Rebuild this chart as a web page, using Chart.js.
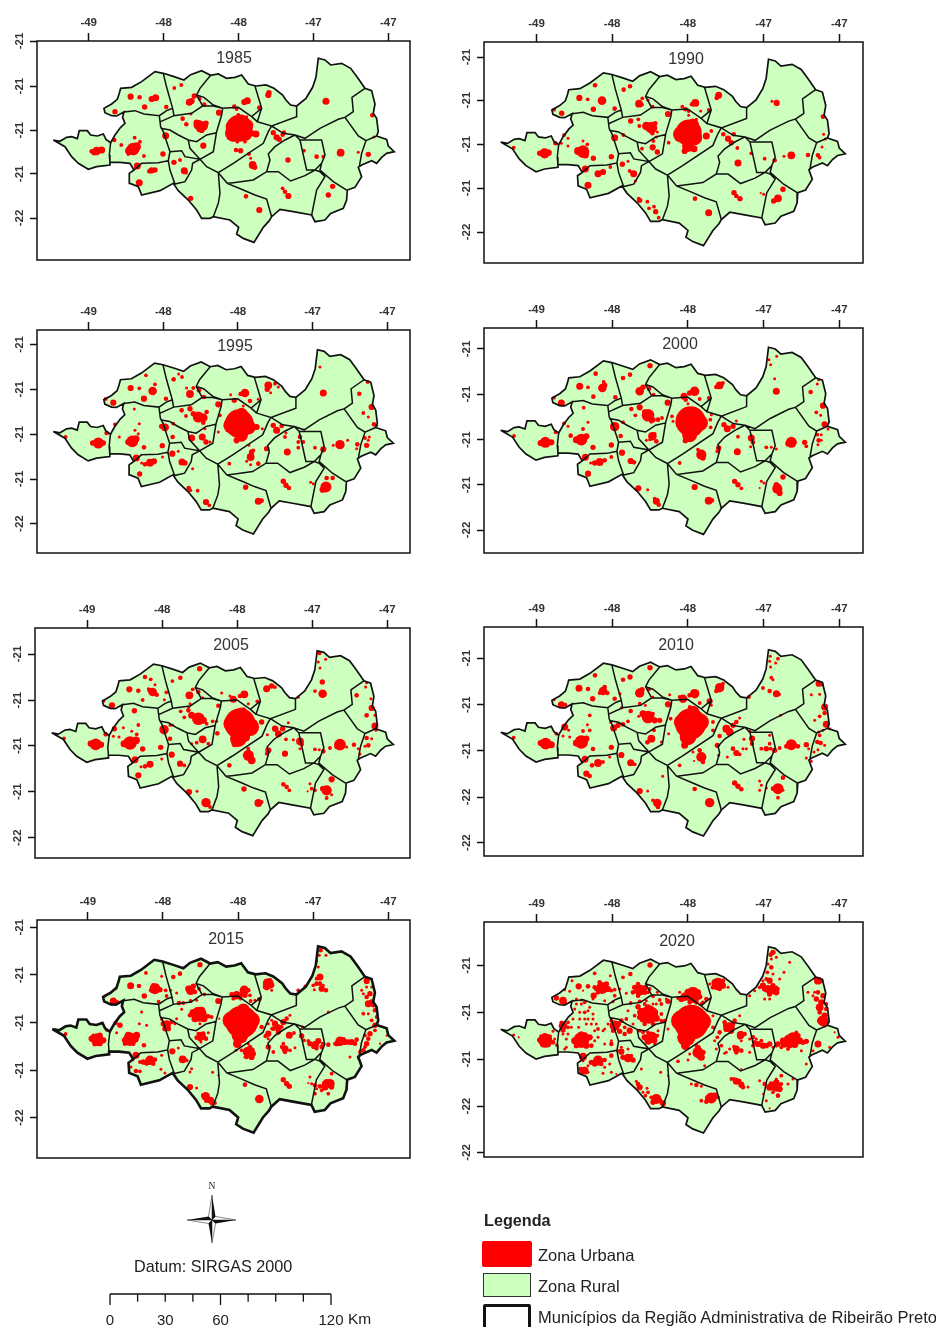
<!DOCTYPE html>
<html>
<head>
<meta charset="utf-8">
<title>Zona urbana e rural - RA de Ribeirão Preto</title>
<script src="https://cdn.jsdelivr.net/npm/chart.js@4"></script>
<style>
html, body { margin: 0; padding: 0; background: #fff; }
#page { position: relative; width: 936px; height: 1327px; overflow: hidden; font-family: "Liberation Sans", Arial, sans-serif; color: #222; filter: blur(0.35px); }
#page canvas { position: absolute; }
.txt { position: absolute; white-space: nowrap; line-height: 1; transform: translateY(-50%); }
.year { font-size: 16px; transform: translate(-50%, -50%); color: #333; }
.swatch { position: absolute; box-sizing: border-box; }
</style>
</head>
<body>
<div id="page"></div>
<script>
// map outline and borders (zoomed sheet units)
const regionOutline = [[160,420],[180,424],[200,412],[215,410],[232,416],[238,392],[262,392],[272,405],[292,408],[310,402],[318,418],[332,428],[345,405],[362,382],[375,370],[368,352],[372,336],[350,348],[335,347],[315,338],[312,325],[335,312],[352,298],[358,280],[362,265],[395,262],[425,245],[465,215],[490,220],[522,230],[552,240],[572,224],[605,212],[632,226],[655,222],[680,235],[705,232],[725,225],[745,252],[768,258],[798,255],[822,265],[848,285],[858,300],[872,315],[890,318],[918,295],[938,262],[948,232],[955,175],[975,180],[992,195],[1025,190],[1052,205],[1072,232],[1095,265],[1115,272],[1125,312],[1120,340],[1130,355],[1135,395],[1130,408],[1160,418],[1165,438],[1183,455],[1160,460],[1145,472],[1130,490],[1115,482],[1085,495],[1075,502],[1085,530],[1065,562],[1042,570],[1040,600],[1030,625],[992,640],[975,660],[945,665],[935,645],[880,635],[840,628],[815,650],[808,662],[790,682],[762,727],[730,715],[710,702],[716,682],[690,660],[640,650],[630,655],[605,655],[590,630],[565,600],[535,572],[520,550],[480,572],[425,585],[415,560],[390,550],[388,520],[402,510],[390,490],[360,487],[330,487],[330,495],[290,500],[265,508],[235,490],[215,470],[195,440],[160,420]];
const municipalBorders = [
  [[332,428],[328,465],[330,487]],
  [[372,336],[405,332],[432,342],[478,347],[500,332],[518,325]],
  [[490,220],[500,262],[518,325],[522,347]],
  [[478,347],[482,380],[490,395],[505,440],[510,455],[505,482],[475,488],[425,490],[402,510]],
  [[482,365],[522,347],[575,340],[608,318],[590,285],[600,265],[632,226]],
  [[590,285],[612,292],[640,315],[668,325],[715,322],[755,350],[785,325],[765,258]],
  [[608,318],[640,318],[668,325],[665,345],[650,395],[640,455],[600,478]],
  [[482,385],[510,390],[535,405],[565,420],[590,425],[620,405],[650,398]],
  [[565,420],[570,445],[600,478]],
  [[510,455],[545,452],[555,470],[600,478],[578,490],[575,510],[555,545],[525,552],[510,510],[505,482]],
  [[600,478],[620,500],[655,518],[700,490],[790,430],[805,395],[815,378]],
  [[655,518],[660,580],[655,610],[640,650]],
  [[655,518],[682,550],[730,570],[765,585],[800,597],[815,650]],
  [[682,550],[700,548],[760,540],[800,515],[835,515],[872,543],[915,527],[945,510],[960,515],[975,530],[950,570],[935,645]],
  [[800,515],[810,480],[805,462],[825,440],[855,420],[885,405],[900,420],[920,510],[945,510]],
  [[815,378],[850,400],[885,405],[915,415],[960,385],[1015,358],[1035,352],[1075,408],[1098,422],[1085,460],[1078,500]],
  [[1098,422],[1130,408]],
  [[900,420],[965,420],[975,465],[965,490],[945,510]],
  [[965,490],[960,510],[1000,545],[1040,570]],
  [[785,325],[772,365],[815,378],[890,350],[890,318]],
  [[755,350],[772,365]],
  [[1035,352],[1060,335],[1056,292],[1095,265]]
];

// urban patches per year: x, y, extent (each read from that year's own sheet)
const urban1985 = [[392,290,7],[419,292,5],[455,297,7],[467,293,8],[434,321,6],[499,321,5],[345,335,6],[523,264,4],[544,255,4],[583,288,6],[599,296,4],[568,307,8],[575,303,7],[613,314,5],[657,338,7],[742,302,8],[733,306,7],[778,323,5],[703,320,5],[710,327,4],[805,285,7],[807,278,6],[573,342,3],[548,356,5],[559,373,5],[596,375,12],[610,378,11],[590,368,7],[605,390,7],[618,370,6],[600,385,9],[718,385,33],[700,400,20],[735,400,18],[725,360,13],[690,378,10],[700,415,8],[745,375,12],[768,402,8],[755,400,7],[712,425,4],[735,425,4],[740,350,3],[715,345,4],[708,450,5],[722,452,6],[747,462,4],[752,475,3],[758,495,9],[764,502,6],[497,407,8],[610,437,7],[343,420,5],[364,435,4],[400,447,15],[410,440,10],[388,452,10],[404,413,4],[420,425,4],[385,462,4],[432,468,4],[489,462,6],[275,454,5],[290,453,10],[305,450,8],[283,457,7],[412,498,8],[455,511,7],[465,510,6],[448,514,5],[418,548,8],[522,487,6],[540,480,4],[553,512,8],[558,518,4],[572,595,6],[738,589,5],[778,630,7],[848,565,4],[855,575,5],[865,588,7],[820,398,6],[830,412,7],[838,418,6],[852,398,5],[848,404,5],[864,480,6],[978,304,8],[912,452,4],[950,470,5],[970,470,4],[1022,458,9],[1075,457,3],[1105,463,6],[1117,346,5],[1122,411,3],[998,559,6],[985,585,6]];
const urban1990 = [[441,208,5],[394,246,7],[419,250,4],[462,254,10],[436,280,6],[500,278,5],[318,281,4],[341,292,6],[527,221,5],[546,211,5],[583,247,4],[600,253,3],[573,263,9],[582,266,4],[614,272,4],[660,294,7],[742,261,9],[732,265,5],[703,272,4],[712,280,5],[722,285,4],[722,298,3],[782,282,4],[758,285,3],[812,238,8],[806,246,5],[548,315,6],[571,310,4],[574,330,4],[526,357,4],[595,330,10],[610,335,14],[622,322,5],[613,352,5],[628,348,3],[722,350,32],[700,355,20],[740,365,18],[735,325,14],[720,390,14],[710,405,7],[738,398,8],[775,360,8],[790,345,4],[745,310,3],[662,380,4],[500,365,8],[348,357,4],[322,382,5],[340,382,3],[360,367,3],[360,390,3],[405,407,15],[390,405,9],[418,385,4],[405,375,3],[412,417,8],[436,427,6],[490,422,6],[487,453,4],[197,395,4],[290,412,12],[275,412,6],[302,410,7],[412,459,8],[450,473,8],[465,468,7],[420,508,8],[523,445,6],[540,436,3],[545,465,4],[557,473,8],[562,495,3],[616,375,4],[625,363,3],[614,394,7],[582,398,4],[628,408,6],[575,553,6],[572,548,4],[598,557,4],[603,577,4],[618,572,4],[623,587,6],[632,605,4],[741,548,5],[782,590,8],[858,530,6],[865,540,5],[876,548,6],[826,355,5],[840,368,7],[850,380,6],[857,355,5],[868,396,4],[870,441,8],[910,412,4],[950,428,4],[980,433,5],[972,256,3],[986,261,7],[1030,418,9],[1008,421,3],[1080,417,5],[1110,418,5],[1115,425,4],[1122,393,3],[1125,302,5],[1127,355,3],[1132,369,3],[1005,520,6],[990,547,9],[977,555,6],[947,535,3],[938,531,2]];
const urban1995 = [[438,220,4],[392,258,7],[418,259,4],[465,247,4],[458,267,10],[432,290,7],[498,290,5],[317,291,4],[340,302,7],[521,232,5],[536,216,3],[546,225,4],[560,258,3],[580,258,4],[597,265,5],[570,276,9],[612,285,5],[655,307,7],[735,273,10],[722,276,5],[703,295,6],[692,278,3],[750,297,5],[775,292,3],[730,312,3],[805,250,9],[802,262,6],[825,245,4],[812,272,3],[835,255,3],[545,325,5],[570,320,6],[558,342,4],[520,365,4],[595,345,13],[610,347,10],[620,330,5],[580,335,6],[610,362,5],[660,340,4],[718,365,35],[695,370,20],[745,375,18],[725,335,14],[725,400,15],[710,415,7],[770,375,7],[787,380,3],[655,390,3],[495,376,9],[485,373,6],[518,405,5],[345,367,4],[320,393,5],[358,405,3],[403,321,3],[418,365,3],[405,385,3],[415,395,3],[397,418,14],[385,420,7],[408,410,8],[432,436,5],[487,431,6],[488,465,3],[197,405,4],[295,423,13],[278,423,6],[310,423,6],[409,468,8],[450,482,9],[435,487,5],[462,478,7],[425,483,3],[419,516,6],[517,455,7],[535,448,3],[546,480,8],[555,483,6],[578,500,3],[575,408,8],[607,405,8],[618,420,6],[615,380,3],[630,420,3],[566,558,5],[571,565,4],[593,566,4],[618,600,7],[628,610,4],[737,556,6],[775,598,8],[785,596,5],[850,538,6],[858,550,6],[867,558,5],[820,370,6],[830,385,8],[845,372,5],[855,405,4],[862,450,8],[900,405,5],[895,420,4],[910,420,4],[895,437,4],[970,273,8],[960,195,3],[945,437,4],[970,442,7],[858,393,3],[1020,428,11],[1043,415,3],[1000,430,3],[1072,427,5],[1070,440,3],[1095,408,4],[1100,430,6],[1108,405,3],[1105,415,3],[1122,367,5],[1130,370,3],[1115,315,7],[1090,333,4],[1105,345,3],[1103,240,4],[1078,275,5],[980,528,5],[998,528,5],[978,555,13],[968,563,7],[932,541,3],[940,545,3],[800,440,6],[747,430,3],[755,450,6],[752,465,9],[760,445,4],[740,478,3],[752,488,3],[775,485,5],[688,485,4]];
const urban2000 = [[443,197,5],[395,235,8],[420,238,4],[467,222,4],[463,240,10],[470,232,6],[436,266,5],[502,268,5],[318,269,4],[340,285,8],[525,210,5],[546,200,5],[606,173,6],[575,250,10],[585,238,6],[603,242,5],[617,260,4],[659,284,7],[740,250,11],[725,255,6],[708,265,8],[713,275,5],[755,273,4],[782,270,4],[720,287,3],[815,232,9],[805,237,5],[825,225,4],[550,303,5],[575,298,7],[562,322,4],[525,343,4],[600,322,15],[590,312,6],[615,335,6],[630,335,5],[642,330,4],[610,340,5],[672,325,4],[728,340,37],[705,345,18],[755,345,20],[730,310,10],[725,380,18],[745,370,10],[712,398,6],[675,340,3],[787,335,4],[788,358,4],[790,320,3],[500,356,11],[525,343,3],[348,346,4],[360,355,3],[323,373,4],[407,299,4],[420,343,3],[405,363,4],[368,383,5],[400,395,14],[385,395,8],[415,385,7],[435,418,6],[490,411,6],[518,384,5],[198,384,4],[292,403,13],[278,405,7],[310,403,7],[412,448,8],[490,447,4],[455,462,9],[440,465,6],[470,457,5],[428,465,3],[420,497,7],[522,434,7],[548,459,7],[558,463,5],[613,385,10],[620,378,4],[595,397,3],[625,400,5],[605,395,3],[571,541,7],[599,545,3],[625,580,8],[632,590,5],[620,572,4],[740,537,7],[782,578,9],[792,577,5],[860,520,6],[870,530,6],[880,541,4],[828,350,6],[838,362,8],[855,355,6],[865,339,3],[870,386,4],[868,431,8],[812,420,6],[808,430,4],[910,390,8],[915,403,5],[908,416,3],[955,418,4],[970,418,3],[985,423,3],[963,155,3],[968,170,3],[986,145,3],[980,212,3],[985,250,8],[1030,403,13],[1020,407,6],[1070,403,6],[1075,415,4],[1108,380,4],[1112,397,5],[1120,380,3],[1120,397,3],[1110,410,3],[1130,349,7],[1140,363,3],[1105,313,4],[1118,322,3],[1125,293,7],[1088,252,5],[1108,228,3],[1112,215,3],[988,542,12],[985,530,6],[995,555,7],[1005,507,6],[948,525,3],[940,520,3],[935,540,2],[750,425,4],[760,440,12],[765,450,6],[695,465,4]];
const urban2005 = [[435,195,5],[452,202,4],[465,218,3],[388,232,7],[415,236,5],[445,230,3],[458,240,10],[450,235,6],[470,248,5],[428,264,4],[499,241,4],[493,263,3],[517,207,4],[541,197,5],[599,170,6],[568,250,9],[578,232,4],[595,240,5],[608,257,3],[570,275,3],[566,285,3],[655,281,5],[733,247,9],[720,252,5],[700,262,8],[690,252,3],[665,243,3],[745,275,3],[772,268,4],[800,230,8],[815,222,6],[825,225,4],[312,267,3],[336,280,7],[542,298,4],[565,295,5],[553,316,4],[575,310,8],[595,320,15],[610,325,8],[620,335,4],[638,328,4],[510,340,3],[518,340,3],[650,328,3],[720,335,38],[695,335,20],[750,345,22],[725,305,15],[715,380,20],[735,375,12],[705,395,8],[732,290,3],[652,364,5],[492,353,11],[785,330,6],[802,368,3],[343,350,6],[340,373,3],[357,375,3],[370,347,3],[403,296,6],[415,339,4],[395,358,3],[410,367,4],[317,367,5],[390,393,16],[372,395,8],[408,385,9],[428,411,6],[482,406,6],[510,380,5],[192,379,4],[287,397,14],[272,395,7],[303,398,7],[405,443,8],[485,441,3],[450,457,8],[435,463,5],[423,464,3],[415,490,7],[515,428,7],[540,455,7],[553,460,4],[608,382,9],[590,392,4],[625,395,4],[575,395,3],[567,540,7],[591,538,3],[618,572,11],[630,585,4],[732,531,6],[775,573,9],[785,570,4],[850,517,5],[860,525,5],[868,535,4],[825,350,7],[835,365,8],[848,350,6],[865,332,3],[858,382,4],[855,425,7],[805,415,7],[800,425,4],[880,383,3],[900,388,9],[905,397,5],[900,410,3],[895,256,3],[945,412,4],[958,413,3],[970,418,5],[990,408,4],[958,123,5],[955,150,3],[977,142,3],[960,168,3],[967,210,6],[945,237,4],[968,245,10],[1020,398,14],[1010,405,5],[1040,405,3],[1062,398,5],[1075,410,3],[1100,378,5],[1105,400,5],[1095,403,3],[1115,380,3],[1080,426,3],[1125,342,8],[1128,355,3],[1100,310,5],[1125,310,3],[1115,288,7],[1070,250,5],[1100,212,3],[1097,225,3],[1113,260,3],[980,535,12],[995,502,7],[968,530,6],[980,558,4],[995,548,3],[935,530,4],[945,535,4],[930,515,3],[923,538,2],[745,430,13],[755,445,9],[745,410,4],[688,460,5],[830,350,4]];
const urban2010 = [[441,175,5],[393,214,8],[420,216,5],[465,222,10],[470,210,5],[478,228,5],[455,228,4],[500,245,5],[516,230,3],[434,245,6],[318,248,3],[340,263,8],[352,263,4],[525,188,5],[546,180,6],[606,152,6],[575,228,11],[582,218,6],[603,217,4],[615,240,3],[575,260,4],[592,265,3],[660,262,7],[740,230,11],[725,235,5],[705,245,10],[695,240,4],[665,233,3],[755,258,4],[785,253,7],[790,265,3],[815,212,11],[805,222,5],[825,200,4],[548,282,5],[520,272,3],[572,298,3],[600,300,15],[585,290,8],[620,310,7],[635,310,6],[615,290,4],[540,313,4],[510,325,6],[497,333,8],[525,322,5],[488,316,3],[728,320,38],[700,315,18],[758,315,20],[735,285,15],[720,360,20],[740,350,12],[710,385,8],[725,270,4],[795,315,4],[795,340,4],[668,305,4],[662,350,3],[350,330,8],[345,357,3],[362,340,3],[365,360,3],[425,295,4],[418,323,3],[405,342,4],[425,340,4],[325,350,4],[400,375,16],[385,378,8],[415,365,7],[435,396,5],[490,391,6],[197,362,4],[293,380,14],[278,378,7],[310,383,8],[411,427,8],[485,420,3],[450,438,9],[432,445,5],[465,435,4],[415,470,7],[425,477,5],[520,414,7],[548,437,8],[560,442,4],[610,365,9],[598,376,5],[618,340,4],[640,375,3],[575,522,7],[599,522,3],[644,478,3],[628,558,10],[630,570,5],[615,550,4],[740,516,5],[785,557,11],[860,498,6],[870,508,6],[880,517,5],[835,335,9],[845,345,9],[855,325,6],[865,315,5],[875,303,3],[815,357,5],[808,385,6],[812,415,3],[838,420,3],[855,395,5],[865,408,7],[875,412,4],[888,367,3],[885,395,3],[912,365,7],[912,380,5],[905,343,3],[895,395,3],[903,240,4],[945,213,4],[965,222,5],[985,230,8],[993,232,4],[967,118,3],[965,133,3],[990,125,4],[983,138,3],[968,150,3],[970,182,4],[975,188,3],[965,355,3],[998,295,3],[940,395,4],[955,395,6],[968,395,4],[965,380,4],[980,400,6],[995,393,4],[1030,383,13],[1015,388,5],[1050,388,5],[1075,383,6],[1082,395,3],[1075,423,3],[1090,433,3],[1108,375,5],[1118,378,5],[1110,398,3],[1098,405,3],[1115,355,4],[1130,385,3],[1112,345,3],[1135,322,8],[1125,340,3],[1145,335,3],[1115,298,4],[1100,310,3],[1130,270,8],[1130,288,5],[1112,200,7],[1122,203,4],[1115,232,3],[1090,233,3],[1005,482,5],[990,515,13],[975,515,5],[955,513,3],[935,492,3],[940,505,3],[935,520,3],[1005,520,3],[990,542,4],[760,420,12],[755,400,5],[765,435,5],[735,405,3],[738,432,2],[695,445,4]];
const urban2015 = [[438,258,4],[392,296,8],[417,297,5],[465,305,13],[480,308,6],[452,310,4],[470,295,4],[485,268,3],[497,310,4],[433,327,6],[500,327,4],[512,310,3],[315,327,3],[347,305,3],[340,342,8],[352,345,4],[476,344,4],[520,270,5],[540,260,5],[600,233,6],[572,310,11],[580,298,6],[597,305,4],[613,322,4],[530,318,3],[537,348,5],[550,348,4],[572,342,4],[590,340,3],[655,342,7],[733,310,11],[745,310,5],[710,325,10],[695,322,5],[722,335,4],[752,342,4],[778,337,5],[805,290,13],[800,302,6],[810,280,5],[815,310,3],[545,367,3],[530,395,3],[598,382,18],[580,378,9],[612,395,8],[625,388,5],[635,390,4],[600,410,3],[500,413,10],[495,425,6],[515,405,5],[485,397,3],[725,405,40],[695,400,22],[755,400,20],[730,370,16],[720,445,20],[712,470,10],[708,490,3],[785,420,5],[658,395,2],[805,440,7],[797,447,5],[347,408,5],[360,415,6],[350,437,3],[425,375,3],[418,410,3],[440,415,3],[320,430,3],[390,457,16],[375,460,7],[410,445,8],[432,475,5],[197,441,4],[292,458,15],[275,455,7],[310,460,7],[408,505,8],[450,520,11],[430,525,6],[465,518,5],[485,505,3],[483,547,3],[393,540,3],[408,552,5],[420,553,4],[495,558,3],[517,493,7],[535,483,3],[548,517,9],[560,520,4],[605,447,10],[590,452,5],[618,455,5],[625,437,3],[603,465,3],[575,545,3],[570,555,3],[570,600,7],[590,603,3],[617,628,10],[632,640,8],[645,648,4],[638,556,3],[655,565,2],[735,593,5],[778,636,10],[850,578,6],[860,590,6],[868,598,6],[825,410,7],[835,422,8],[850,405,7],[860,395,5],[870,385,3],[815,400,3],[805,480,6],[820,495,4],[855,485,8],[868,445,8],[850,470,4],[882,438,4],[885,482,3],[908,420,3],[905,447,6],[912,460,4],[895,310,4],[915,297,3],[940,295,4],[950,290,5],[960,270,8],[955,240,3],[962,190,5],[958,205,3],[978,205,3],[950,222,3],[965,305,7],[978,310,5],[943,308,3],[985,375,3],[930,470,6],[945,475,9],[955,462,7],[965,480,5],[985,473,5],[940,480,4],[1020,463,11],[1035,465,7],[1055,465,7],[1070,458,5],[1005,470,4],[1050,510,3],[1075,513,3],[1090,490,5],[1100,470,6],[1110,440,6],[1125,415,6],[1125,370,5],[1105,350,8],[1110,320,6],[1085,310,3],[1100,282,7],[1090,380,4],[1105,380,3],[1095,445,4],[1160,446,2],[1140,470,2],[1080,495,4],[1115,300,3],[990,590,11],[975,600,8],[960,598,5],[945,595,5],[930,570,3],[925,588,2],[945,620,4],[985,620,4],[995,560,4],[815,425,3],[745,495,13],[755,510,7],[725,490,4],[735,510,3],[745,470,3],[805,455,3],
[720,325,7],[735,325,6],[750,325,4],[765,340,3],[700,335,4],[800,285,7],[815,295,6],[795,300,5],[470,305,8],[460,295,5],[455,312,4],[565,305,7],[585,315,5],[585,395,8],[605,370,8],[590,370,7],[610,385,7],[570,385,5],[490,410,6],[505,425,6],[525,410,3],[385,445,8],[405,455,9],[375,470,5],[400,470,5],[285,470,6],[300,470,6],[280,445,4],[300,445,6],[440,528,6],[460,530,5],[420,525,4],[600,455,6],[610,440,5],[595,440,4],[620,640,6],[610,625,5],[635,650,4],[835,435,6],[820,425,5],[845,420,4],[805,410,3],[855,495,5],[870,490,4],[845,480,4],[1010,470,6],[1030,458,6],[1045,465,6],[1065,470,5],[945,470,6],[925,462,4],[950,485,4],[968,470,4],[1115,345,6],[1100,330,5],[1120,355,5],[1130,390,4],[1125,430,4],[1105,455,5],[1095,480,4],[1115,400,4],[1090,320,3],[1100,300,3],[980,585,7],[975,590,7],[995,600,6],[965,610,4],[950,605,3],[935,590,3],[755,490,7],[760,500,6],[740,510,5],[750,480,5],[960,290,5],[950,275,4],[970,295,3]];
const urban2020 = [[440,148,4],[372,170,3],[392,187,7],[420,187,5],[462,192,14],[480,195,7],[445,195,5],[487,155,3],[500,197,4],[515,195,3],[437,215,7],[405,200,2],[500,215,4],[350,197,3],[325,222,6],[345,230,9],[365,202,3],[352,238,3],[385,225,3],[410,235,4],[400,228,3],[435,225,3],[470,230,3],[495,233,3],[525,160,4],[547,150,5],[606,123,6],[575,198,13],[560,190,6],[590,192,7],[605,195,4],[535,208,3],[615,217,4],[635,228,4],[660,232,6],[548,237,4],[575,232,4],[595,230,3],[628,205,3],[735,213,19],[710,218,10],[755,218,6],[695,205,3],[725,235,5],[775,225,5],[760,240,4],[810,180,15],[795,190,5],[825,170,5],[785,180,3],[603,272,22],[580,265,10],[625,283,8],[570,248,6],[640,290,4],[590,300,5],[615,240,3],[540,260,3],[520,290,5],[535,285,4],[555,300,3],[660,315,3],[500,305,12],[490,290,4],[515,322,6],[545,320,7],[530,330,5],[730,295,43],[700,290,25],[762,292,22],[725,265,15],[715,340,22],[725,325,20],[712,365,10],[795,275,3],[795,310,4],[345,305,10],[360,295,4],[345,330,3],[420,260,3],[435,270,3],[400,240,3],[410,265,4],[435,285,3],[380,255,3],[420,285,3],[395,285,3],[375,285,3],[370,310,3],[415,300,3],[450,315,4],[470,315,3],[400,348,19],[380,350,8],[425,340,7],[440,350,3],[430,365,5],[392,310,3],[490,360,5],[355,370,3],[315,322,3],[197,333,3],[212,340,2],[292,350,17],[275,348,6],[315,355,5],[325,363,3],[405,398,9],[450,410,12],[430,415,6],[470,408,5],[490,395,5],[485,420,3],[410,440,9],[398,435,5],[420,445,3],[465,448,3],[490,445,3],[505,450,2],[520,383,7],[540,402,10],[555,408,6],[540,375,3],[610,340,14],[590,340,7],[628,335,4],[600,325,4],[575,320,4],[620,360,3],[580,435,3],[565,472,3],[575,490,7],[597,493,3],[625,525,12],[645,538,7],[610,520,4],[592,515,4],[638,445,3],[660,455,2],[745,483,5],[730,480,3],[760,487,3],[790,522,13],[775,533,5],[810,520,4],[865,472,8],[880,482,7],[858,465,4],[900,489,3],[845,310,12],[830,295,5],[860,290,5],[875,275,3],[815,325,5],[808,340,4],[820,365,4],[845,375,3],[830,388,3],[878,333,9],[890,330,5],[865,375,8],[880,380,5],[880,350,3],[915,340,5],[920,355,5],[930,360,7],[945,365,7],[965,360,6],[905,385,3],[975,370,3],[905,215,3],[920,200,3],[945,185,7],[960,195,9],[978,200,8],[990,195,4],[965,170,7],[958,145,4],[970,130,5],[970,105,3],[975,85,6],[985,100,3],[1025,115,3],[1008,145,3],[950,225,3],[965,225,3],[995,165,3],[1035,345,16],[1010,358,10],[990,360,6],[1055,350,8],[1075,352,6],[1020,375,4],[1060,380,3],[1045,325,4],[1075,420,3],[1110,360,8],[1145,370,3],[1170,340,3],[1160,325,2],[1095,380,3],[1125,290,13],[1115,250,9],[1105,225,6],[1110,170,9],[1125,215,6],[1135,255,5],[1100,205,3],[1080,205,3],[1140,295,3],[985,488,12],[965,490,8],[950,480,5],[975,505,4],[990,515,5],[935,470,3],[1000,455,4],[1020,480,3],[955,530,3],[945,510,2],[965,553,2],[985,465,3],[750,385,13],[760,400,8],[745,365,4],[725,390,3],[690,412,4],[720,408,3],[770,425,3],[800,350,3],[805,375,3],[835,385,3],[880,435,2],[1035,465,3],
[735,200,8],[720,205,8],[750,205,7],[700,225,7],[745,235,5],[765,235,4],[690,222,4],[800,175,7],[825,185,7],[815,195,5],[840,190,3],[440,190,5],[475,180,6],[455,175,5],[490,200,4],[450,205,5],[555,205,5],[590,205,6],[570,215,5],[600,205,4],[570,180,5],[585,285,8],[620,265,8],[600,250,7],[575,280,6],[640,270,4],[650,290,4],[615,300,5],[560,275,4],[590,240,4],[640,240,4],[655,225,3],[625,240,3],[510,300,7],[495,320,5],[480,300,3],[530,310,4],[345,318,6],[360,310,4],[340,295,4],[400,330,6],[385,365,6],[415,365,7],[410,335,8],[440,320,3],[425,250,3],[445,300,3],[395,265,3],[430,300,3],[450,340,3],[465,320,3],[490,350,3],[385,240,3],[410,285,3],[360,330,3],[355,345,3],[470,360,3],[350,375,3],[285,362,6],[300,362,6],[280,338,5],[305,338,5],[290,335,6],[320,345,3],[440,420,6],[460,420,5],[400,445,5],[420,425,3],[405,410,3],[470,430,3],[400,400,5],[525,400,6],[550,395,4],[520,370,3],[510,380,3],[600,352,8],[620,350,6],[585,325,4],[630,320,3],[615,535,6],[635,530,6],[600,505,4],[585,505,3],[570,480,5],[800,515,7],[780,522,7],[760,530,4],[850,465,4],[875,470,4],[885,490,5],[835,315,7],[850,322,6],[855,300,5],[830,305,4],[875,340,5],[865,385,5],[858,368,4],[880,325,3],[905,345,3],[925,345,3],[940,350,4],[955,365,6],[915,365,4],[1020,345,9],[1040,360,9],[1005,350,7],[1050,335,6],[1025,365,6],[1065,355,6],[1000,370,4],[985,365,4],[1120,235,7],[1110,205,5],[1130,275,7],[1115,290,6],[1105,165,5],[1120,170,5],[1135,240,4],[1130,305,4],[1115,265,5],[1095,215,3],[955,165,4],[975,185,6],[950,195,6],[985,205,7],[965,210,6],[935,190,4],[975,150,3],[960,120,3],[968,92,5],[985,190,4],[945,170,3],[985,475,7],[970,480,6],[995,495,7],[975,490,7],[1000,480,4],[750,370,6],[755,395,8],[765,385,6],[740,390,4]];

// axis ticks
const lonTicks = [-48.6, -48.2, -47.8, -47.4, -47.0];
const lonLabels = ['-49', '-48', '-48', '-47', '-47'];
const latTicks1985 = [-20.598, -20.843, -21.082, -21.32, -21.56];
const latTicks1990 = [-20.68, -20.911, -21.147, -21.383, -21.619];
const latTicks1995 = [-20.663, -20.907, -21.151, -21.394, -21.636];
const latTicks2000 = [-20.701, -20.943, -21.186, -21.428, -21.669];
const latTicks2005 = [-20.71, -20.959, -21.206, -21.454, -21.703];
const latTicks2010 = [-20.738, -20.987, -21.234, -21.483, -21.728];
const latTicks2015 = [-20.59, -20.846, -21.102, -21.357, -21.612];
const latTicks2020 = [-20.792, -21.044, -21.296, -21.548, -21.797];
const latLabels = ['-21', '-21', '-21', '-21', '-22'];
const latLabelsLow = ['-21', '-21', '-21', '-22', '-22'];

// scale bar, km
const scaleMajorKm = [0, 60, 120];
const scaleMinorKm = [15, 30, 45, 75, 90, 105];
const scaleLabelKm = [0, 30, 60, 120];

// geographic extent of the region
const lonWest = -48.789, lonEast = -46.968, latNorth = -20.692, latSouth = -21.694;
const outlineFrame = [160, 1183, 175, 728];

// box = plot area on the page, map = where the region's extremes fall on the page,
// frame = region's extremes in the units that sheet was read in
const sheets = [
  { year: '1985', urban: urban1985, lat: latTicks1985, latText: latLabels, box: [37, 41, 410, 260], map: [53.3, 394.3, 58.3, 242.7], frame: [160, 1183, 175, 728], yearAt: [234, 58] },
  { year: '1990', urban: urban1990, lat: latTicks1990, latText: latLabels, box: [484, 42, 863, 263], map: [500.7, 845.3, 59.3, 246], frame: [158, 1192, 130, 690], yearAt: [686, 59] },
  { year: '1995', urban: urban1995, lat: latTicks1995, latText: latLabels, box: [37, 330, 410, 553], map: [53.3, 393.3, 349.7, 534.3], frame: [160, 1180, 143, 697], yearAt: [235, 346] },
  { year: '2000', urban: urban2000, lat: latTicks2000, latText: latLabels, box: [484, 328, 863, 553], map: [500.7, 845.3, 347.3, 534.7], frame: [158, 1192, 118, 680], yearAt: [680, 344] },
  { year: '2005', urban: urban2005, lat: latTicks2005, latText: latLabels, box: [35, 628, 410, 858], map: [51.7, 393.3, 650.7, 836], frame: [155, 1180, 116, 672], yearAt: [231, 645] },
  { year: '2010', urban: urban2010, lat: latTicks2010, latText: latLabelsLow, box: [484, 627, 863, 856], map: [500.7, 845.3, 649.7, 836.3], frame: [158, 1192, 98, 658], yearAt: [676, 645] },
  { year: '2015', urban: urban2015, lat: latTicks2015, latText: latLabels, box: [37, 920, 410, 1158], map: [52.3, 394.3, 946.3, 1133], frame: [157, 1183, 178, 738], yearAt: [226, 939], heavy: true },
  { year: '2020', urban: urban2020, lat: latTicks2020, latText: latLabelsLow, box: [484, 922, 863, 1157], map: [500.7, 845.3, 946.7, 1133.3], frame: [158, 1192, 68, 628], yearAt: [677, 941] }
];

const page = document.getElementById('page');
const LINE = '#111';
const RURAL = '#CDFFBE';
const URBAN = '#FF0000';

function addCanvas(left, top, width, height) {
  const c = document.createElement('canvas');
  c.width = width;
  c.height = height;
  c.style.left = left + 'px';
  c.style.top = top + 'px';
  c.style.width = width + 'px';
  c.style.height = height + 'px';
  page.appendChild(c);
  return c;
}

function addText(str, left, top, size, extra) {
  const d = document.createElement('div');
  d.className = 'txt';
  d.textContent = str;
  d.style.left = left + 'px';
  d.style.top = top + 'px';
  d.style.fontSize = size + 'px';
  if (extra) Object.assign(d.style, extra);
  page.appendChild(d);
  return d;
}

function toLon(x, f) { return lonWest + (x - f[0]) / (f[1] - f[0]) * (lonEast - lonWest); }
function toLat(y, f) { return latNorth + (y - f[2]) / (f[3] - f[2]) * (latSouth - latNorth); }

function pathPoints(path, f) {
  return path.map(p => ({ x: toLon(p[0], f), y: toLat(p[1], f) }));
}

const frameBorder = {
  id: 'frameBorder',
  afterDraw(chart) {
    const a = chart.chartArea, ctx = chart.ctx;
    ctx.save();
    ctx.strokeStyle = LINE;
    ctx.lineWidth = 1.5;
    ctx.strokeRect(a.left, a.top, a.right - a.left, a.bottom - a.top);
    ctx.restore();
  }
};

// the end padding has to stay above the largest patch radius or the plot area shrinks
const PAD_LEFT = 30, PAD_TOP = 28, PAD_END = 24;

sheets.forEach(sheet => {
  const [L, T, R, B] = sheet.box;
  const [W, E, N, S] = sheet.map;
  const canvas = addCanvas(L - PAD_LEFT, T - PAD_TOP, R - L + PAD_LEFT + PAD_END, B - T + PAD_TOP + PAD_END);

  const lonPerPx = (lonEast - lonWest) / (E - W);
  const latPerPx = (latSouth - latNorth) / (S - N);

  const borderPoints = [];
  municipalBorders.forEach(b => {
    borderPoints.push(...pathPoints(b, outlineFrame), { x: NaN, y: NaN });
  });

  new Chart(canvas.getContext('2d'), {
    type: 'scatter',
    data: {
      datasets: [
        { type: 'scatter', label: 'Municípios', data: borderPoints, showLine: true, spanGaps: false, pointRadius: 0, borderColor: LINE, borderWidth: 1.5, tension: 0, fill: false, order: 0 },
        { type: 'scatter', label: 'Limite', data: pathPoints(regionOutline, outlineFrame), showLine: true, pointRadius: 0, borderColor: LINE, borderWidth: sheet.heavy ? 2.6 : 1.7, tension: 0, fill: false, order: 1 },
        { type: 'bubble', label: 'Zona Urbana', data: sheet.urban.map(u => ({ x: toLon(u[0], sheet.frame), y: toLat(u[1], sheet.frame), r: u[2] * 0.4 + 0.3 })), backgroundColor: URBAN, borderWidth: 0, order: 2 },
        { type: 'scatter', label: 'Zona Rural', data: pathPoints(regionOutline, outlineFrame), showLine: true, pointRadius: 0, borderWidth: 0, backgroundColor: RURAL, tension: 0, fill: 'shape', order: 3 }
      ]
    },
    options: {
      responsive: false,
      animation: false,
      events: [],
      layout: { padding: { right: PAD_END, bottom: PAD_END } },
      plugins: { legend: { display: false }, tooltip: { enabled: false } },
      scales: {
        x: {
          type: 'linear',
          position: 'top',
          min: lonWest + (L - W) * lonPerPx,
          max: lonWest + (R - W) * lonPerPx,
          afterFit: s => { s.height = PAD_TOP; },
          afterBuildTicks: s => { s.ticks = lonTicks.map(v => ({ value: v })); },
          border: { display: false },
          grid: { drawOnChartArea: false, color: LINE, tickLength: 8, tickWidth: 1.5 },
          ticks: { autoSkip: false, maxRotation: 0, padding: 3, color: '#333', font: { family: 'Liberation Sans', size: 11.5, weight: 'bold' }, callback: (v, i) => lonLabels[i] }
        },
        y: {
          type: 'linear',
          min: latNorth + (B - N) * latPerPx,
          max: latNorth + (T - N) * latPerPx,
          afterFit: s => { s.width = PAD_LEFT; },
          afterBuildTicks: s => { s.ticks = sheet.lat.slice().reverse().map(v => ({ value: v })); },
          border: { display: false },
          grid: { drawOnChartArea: false, color: LINE, tickLength: 7, tickWidth: 1.5 },
          ticks: { autoSkip: false, minRotation: 90, maxRotation: 90, crossAlign: 'center', padding: 2, color: '#333', font: { family: 'Liberation Sans', size: 11.5, weight: 'bold' }, callback: (v, i) => sheet.latText.slice().reverse()[i] }
        }
      }
    },
    plugins: [frameBorder]
  });

  const y = addText(sheet.year, sheet.yearAt[0], sheet.yearAt[1], 16);
  y.className = 'txt year';
});

// scale bar
function scaleBar() {
  const left = 90, top = 1285;
  const canvas = addCanvas(left, top, 300, 42);
  const points = [{ x: 0, y: 1 }, { x: 120, y: 1 }, { x: NaN, y: NaN }];
  scaleMajorKm.forEach(k => points.push({ x: k, y: 1 }, { x: k, y: 0 }, { x: NaN, y: NaN }));
  scaleMinorKm.forEach(k => points.push({ x: k, y: 1 }, { x: k, y: 0.3 }, { x: NaN, y: NaN }));
  new Chart(canvas.getContext('2d'), {
    type: 'scatter',
    data: { datasets: [{ data: points, showLine: true, spanGaps: false, pointRadius: 0, borderColor: LINE, borderWidth: 1.3, clip: false }] },
    options: {
      responsive: false,
      animation: false,
      events: [],
      layout: { padding: { left: 20, right: 59, top: 9 } },
      plugins: { legend: { display: false }, tooltip: { enabled: false } },
      scales: {
        y: { display: false, min: 0, max: 1 },
        x: {
          type: 'linear',
          min: 0,
          max: 120,
          afterFit: s => { s.height = 22; },
          afterBuildTicks: s => { s.ticks = scaleLabelKm.map(v => ({ value: v })); },
          border: { display: false },
          grid: { display: false, drawTicks: false },
          ticks: { autoSkip: false, maxRotation: 0, padding: 7, color: '#222', font: { family: 'Liberation Sans', size: 15 }, callback: v => String(v) }
        }
      }
    }
  });
  addText('Km', 348, 1319, 15.5);
}
scaleBar();

addText('Datum: SIRGAS 2000', 134, 1266, 16.2);

// north arrow
page.insertAdjacentHTML('beforeend',
  '<svg style="position:absolute;left:182px;top:1190px" width="60" height="58" viewBox="182 1190 60 58">' +
  '<g stroke="#111" stroke-width="0.5" fill="#fff">' +
  '<path d="M212 1195L208.5 1216.5L212 1220Z"/><path d="M212 1243L215.5 1223.5L212 1220Z"/>' +
  '<path d="M236 1220L215.5 1216.5L212 1220Z"/><path d="M187 1220L208.5 1223.5L212 1220Z"/>' +
  '</g><g fill="#111">' +
  '<path d="M212 1195L215.5 1216.5L212 1220Z"/><path d="M212 1243L208.5 1223.5L212 1220Z"/>' +
  '<path d="M236 1220L215.5 1223.5L212 1220Z"/><path d="M187 1220L208.5 1216.5L212 1220Z"/>' +
  '</g></svg>');
addText('N', 212, 1187, 9.5, { fontFamily: '"Liberation Serif", serif', transform: 'translate(-50%, -50%)' });

// legend
function swatch(left, top, width, height, css) {
  const d = document.createElement('div');
  d.className = 'swatch';
  d.style.left = left + 'px';
  d.style.top = top + 'px';
  d.style.width = width + 'px';
  d.style.height = height + 'px';
  Object.assign(d.style, css);
  page.appendChild(d);
}
addText('Legenda', 484, 1220, 16.2, { fontWeight: 'bold' });
swatch(482, 1241, 50, 26, { background: URBAN, borderRadius: '2px' });
addText('Zona Urbana', 538, 1255, 16.5);
swatch(483, 1273, 48, 24, { background: RURAL, border: '1.5px solid #333' });
addText('Zona Rural', 538, 1286, 16.5);
swatch(483, 1304, 48, 30, { background: '#fff', border: '3px solid #111', borderRadius: '2px' });
addText('Municípios da Região Administrativa de Ribeirão Preto', 538, 1317, 16.5);
</script>
</body>
</html>
